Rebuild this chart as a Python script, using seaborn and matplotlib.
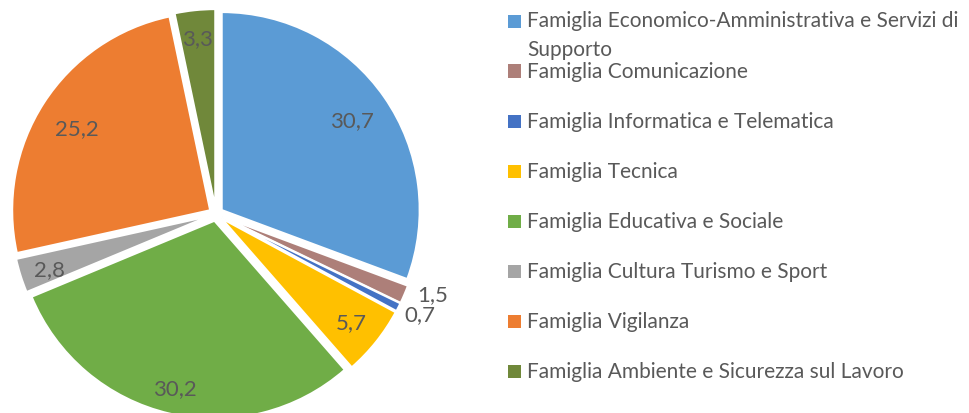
import numpy as np
import matplotlib.pyplot as plt
import seaborn as sns
from matplotlib.patches import Rectangle

categories = [
    'Famiglia Economico-Amministrativa e Servizi di\nSupporto',
    'Famiglia Comunicazione',
    'Famiglia Informatica e Telematica',
    'Famiglia Tecnica',
    'Famiglia Educativa e Sociale',
    'Famiglia Cultura Turismo e Sport',
    'Famiglia Vigilanza',
    'Famiglia Ambiente e Sicurezza sul Lavoro',
]
values = [30.7, 1.5, 0.7, 5.7, 30.2, 2.8, 25.2, 3.3]
value_labels = ['30,7', '1,5', '0,7', '5,7', '30,2', '2,8', '25,2', '3,3']
colors = ['#5B9BD5', '#AD7F79', '#4472C4', '#FFC000', '#70AD47', '#A5A5A5', '#ED7D31', '#70883A']

sns.set_style('white')
plt.rcParams['font.family'] = ['Lato', 'DejaVu Sans']
TXT = '#595959'

W, H = 969, 414
fig = plt.figure(figsize=(W / 100, H / 100), dpi=100)

# pie axes placed in pixel terms: center (216, 215), radius ~198 px
cx, cy, r_px, half = 216, 215, 198, 1.15
side = 2 * half * r_px
ax = fig.add_axes([(cx - half * r_px) / W, (H - cy - half * r_px) / H, side / W, side / H])

wedges, _ = ax.pie(values, colors=colors, startangle=90, counterclock=False,
                   explode=[0.035] * len(values),
                   wedgeprops=dict(edgecolor='white', linewidth=1.5))
ax.set_xlim(-half, half)
ax.set_ylim(-half, half)
ax.set_aspect('equal')
ax.axis('off')

# (distance from wedge centre, angle shift in degrees) for each value label
label_pos = [(0.80, 0), (1.13, 3), (1.11, 1), (0.84, 0), (0.87, 0), (0.85, 1), (0.79, 1), (0.86, 0)]
for w, lab, (d, da) in zip(wedges, value_labels, label_pos):
    ang = np.deg2rad((w.theta1 + w.theta2) / 2 + da)
    ox, oy = w.center
    ax.text(ox + d * np.cos(ang), oy + d * np.sin(ang), lab, ha='center', va='center',
            fontsize=16, color=TXT)

# legend drawn in figure pixels, one row every 50 px
for i, (cat, col) in enumerate(zip(categories, colors)):
    y = 22 + 50 * i
    fig.patches.append(Rectangle((508 / W, 1 - (y + 6.5) / H), 13 / W, 13 / H,
                                 transform=fig.transFigure, facecolor=col, edgecolor='none'))
    if '\n' in cat:
        fig.text(527 / W, 1 - (y - 11) / H, cat, ha='left', va='top',
                 fontsize=15, color=TXT, linespacing=1.55)
    else:
        fig.text(527 / W, 1 - y / H, cat, ha='left', va='center', fontsize=15, color=TXT)

fig.savefig('out.png', dpi=100)
